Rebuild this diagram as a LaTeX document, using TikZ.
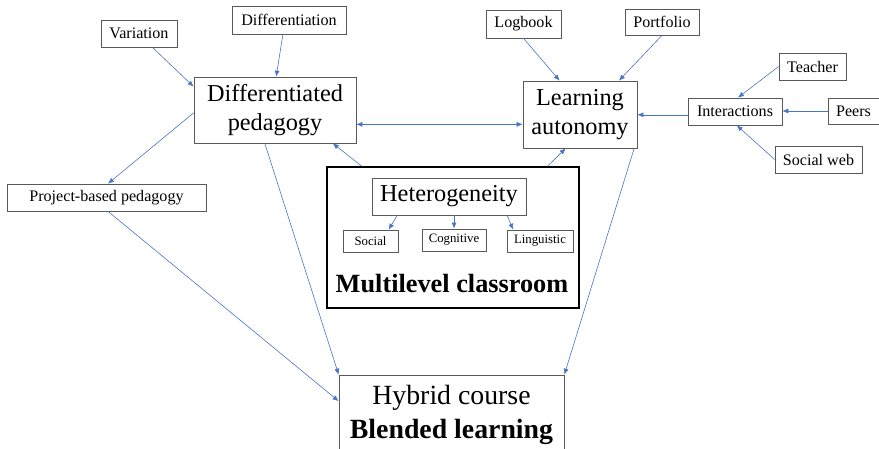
\documentclass[tikz,border=0pt]{standalone}
\usepackage{fontspec}
\setmainfont{Liberation Serif}
\usepackage{xcolor}
\usetikzlibrary{arrows.meta}

\definecolor{linkblue}{RGB}{72,118,196}
\newcommand{\smalltext}{\fontsize{16.1}{18}\selectfont}
\newcommand{\tinytext}{\fontsize{12.8}{14}\selectfont}
\newcommand{\bigtext}{\fontsize{24.3}{29}\selectfont}

\tikzset{
    box/.style = {draw = black!65, line width = 0.7pt, inner sep = 0pt, align = center},
    link/.style = {draw = linkblue, line width = 0.6pt, -{Latex[length = 6pt, width = 5pt]}},
    twolink/.style = {link, {Latex[length = 6pt, width = 5pt]}-{Latex[length = 6pt, width = 5pt]}}
}

\begin{document}
\begin{tikzpicture}[x = 1pt, y = -1pt]
                \useasboundingbox (0, 0) rectangle (879, 449);

                \node [draw = black, line width = 1.3pt, minimum width = 252pt, minimum height = 141pt] (ml) at (453, 237.5) {};
                \node [font = \fontsize{26.3}{30}\selectfont\bfseries] (mlc) at (452, 284) {Multilevel classroom};

                \node [box, minimum width = 76pt, minimum height = 27pt, font = \smalltext] (var) at (139, 33.5) {Variation};
                \node [box, minimum width = 114pt, minimum height = 28pt, font = \smalltext] (diff) at (289, 20) {Differentiation};
                \node [box, minimum width = 162pt, minimum height = 66pt, font = \bigtext] (dp) at (275, 110) {Differentiated\\pedagogy};
                \node [box, minimum width = 199pt, minimum height = 27pt, font = \smalltext] (pbp) at (106.5, 197.5) {Project-based pedagogy};

                \node [box, minimum width = 75pt, minimum height = 28pt, font = \smalltext] (log) at (523.5, 24) {Logbook};
                \node [box, minimum width = 74pt, minimum height = 26pt, font = \smalltext] (port) at (662, 22) {Portfolio};
                \node [box, minimum width = 114pt, minimum height = 67pt, font = \bigtext] (la) at (580, 114.5) {Learning\\autonomy};

                \node [box, minimum width = 94pt, minimum height = 27pt, font = \smalltext] (int) at (735, 111.5) {Interactions};
                \node [box, minimum width = 67pt, minimum height = 27pt, font = \smalltext] (teach) at (812.5, 66.5) {Teacher};
                \node [box, minimum width = 51pt, minimum height = 26pt, font = \smalltext] (peers) at (853.5, 111) {Peers};
                \node [box, minimum width = 87pt, minimum height = 27pt, font = \smalltext] (sw) at (818.5, 159.5) {Social web};

                \node [box, minimum width = 154pt, minimum height = 37pt, font = \bigtext] (het) at (449, 196.5) {Heterogeneity};
                \node [box, minimum width = 55pt, minimum height = 22pt, font = \tinytext] (soc) at (370.5, 241) {Social};
                \node [box, minimum width = 64pt, minimum height = 22pt, font = \tinytext] (cog) at (454, 240) {Cognitive};
                \node [box, minimum width = 66pt, minimum height = 22pt, font = \tinytext] (ling) at (540, 241) {Linguistic};

                \node [box, minimum width = 225pt, minimum height = 80pt, font = \fontsize{27.8}{34}\selectfont] (hyb) at (451.5, 415) {Hybrid course\\\textbf{Blended learning}};

                \draw [link] (var.-46) -- (dp.164);
                \draw [link] (diff.-113) -- (dp.88);
                \draw [link] (dp.182) -- (pbp.84);
                \draw [twolink] (dp.-10) -- (dp.-10 -| la.west);
                \draw [link] (ml.142) -- (dp.-30);
                \draw [link] (ml.37) -- (la.-113);
                \draw [link] (dp.-107) -- (hyb.north west);
                \draw [link] (pbp.-84) -- (hyb.173);
                \draw [link] (la.-32) -- (hyb.north east);

                \draw [link] (log.south) -- (la.121);
                \draw [link] (port.south) -- (la.41);
                \draw [link] (int.184) -- (int.184 -| la.east);
                \draw [link] (teach.west) -- (int.78);
                \draw [link] (peers.west) -- (peers.west -| int.east);
                \draw [link] (sw.west) -- (int.-83);

                \draw [link] (het.-160) -- (soc.32);
                \draw [link] (het.-75) -- (het.-75 |- cog.north);
                \draw [link] (het.-18) -- (ling.157);
\end{tikzpicture}
\end{document}
